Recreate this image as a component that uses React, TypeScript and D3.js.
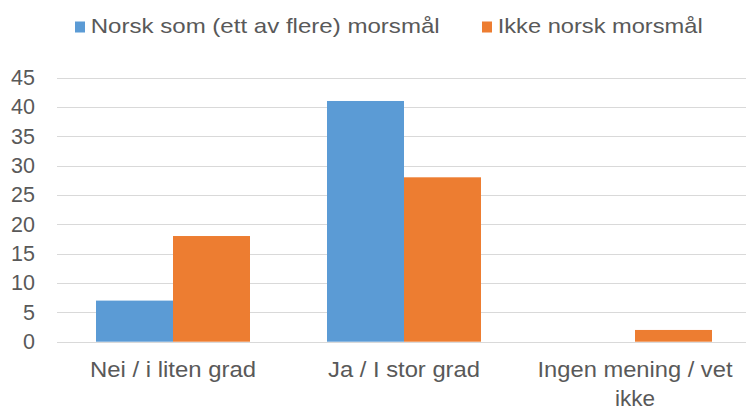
import React from 'react';
import * as d3 from 'd3';

// categories and series
const categories = ['Nei / i liten grad', 'Ja / I stor grad', 'Ingen mening / vet ikke'];
const categoryLines = [['Nei / i liten grad'], ['Ja / I stor grad'], ['Ingen mening / vet', 'ikke']];
const seriesNames = ['Norsk som (ett av flere) morsmål', 'Ikke norsk morsmål'];
const norskValues = [7, 41, 0];
const ikkeNorskValues = [18, 28, 2];
const yTicks = [0, 5, 10, 15, 20, 25, 30, 35, 40, 45];
const colors = ['#5B9BD5', '#ED7D31'];

const W = 746;
const H = 409;
const font = '"Liberation Sans", Arial, sans-serif';
const textColor = '#595959';

// measured text widths in the reference (the original font runs wider)
const lineWidths: Record<string, number> = {
    'Nei / i liten grad': 166,
    'Ja / I stor grad': 152,
    'Ingen mening / vet': 195,
    'ikke': 40,
};
const legendWidths = [349, 205];

function App() {
    const margin = { top: 77.5, bottom: 67.3, left: 57.5, right: -4.5 };

    const x0 = d3.scaleBand()
        .domain(categories)
        .range([margin.left, W - margin.right])
        .paddingInner(1 / 3)
        .paddingOuter(1 / 6);

    const x1 = d3.scaleBand()
        .domain(seriesNames)
        .range([0, x0.bandwidth()]);

    const y = d3.scaleLinear()
        .domain([0, 45])
        .range([H - margin.bottom, margin.top]);

    const series = [norskValues, ikkeNorskValues];

    const legendX = [75, 482];

    return (
        <svg width={W} height={H} style={{ position: 'absolute', left: 0, top: 0, display: 'block' }}>
            <rect width={W} height={H} fill="#fff" />
            {/* gridlines */}
            {yTicks.map((t) => (
                <line key={t} x1={57} x2={746} y1={Math.round(y(t)) + 0.5} y2={Math.round(y(t)) + 0.5} stroke="#d9d9d9" strokeWidth={1} />
            ))}
            {/* y labels */}
            {yTicks.map((t) => (
                <text key={'l' + t} x={35} y={y(t) + 7.5} textAnchor="end" fontFamily={font} fontSize={21.5} fill={textColor}>{t}</text>
            ))}
            {/* bars */}
            {categories.map((c, i) => (
                <g key={c} transform={`translate(${x0(c)},0)`}>
                    {seriesNames.map((s, j) => {
                        const v = series[j][i];
                        if (!v) return null;
                        return (
                            <rect key={s} x={x1(s)} y={y(v)} width={x1.bandwidth()} height={y(0) - y(v)} fill={colors[j]} />
                        );
                    })}
                </g>
            ))}
            {/* category labels */}
            {categories.map((c, i) =>
                categoryLines[i].map((ln, k) => (
                    <text key={c + k} x={(x0(c) as number) + x0.bandwidth() / 2} y={377 + k * 28.7}
                        textAnchor="middle" fontFamily={font} fontSize={22} fill={textColor}
                        textLength={lineWidths[ln]} lengthAdjust="spacingAndGlyphs">{ln}</text>
                ))
            )}
            {/* legend */}
            {seriesNames.map((s, j) => (
                <g key={'lg' + s}>
                    <rect x={legendX[j]} y={21.5} width={10} height={11} fill={colors[j]} />
                    <text x={legendX[j] + 15.7} y={33.3} fontFamily={font} fontSize={21} fill={textColor}
                        textLength={legendWidths[j]} lengthAdjust="spacingAndGlyphs">{s}</text>
                </g>
            ))}
        </svg>
    );
}

export default App;
